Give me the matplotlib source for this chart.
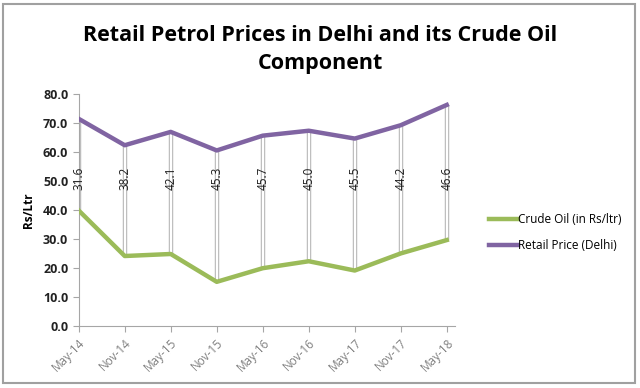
import matplotlib.pyplot as plt
from matplotlib.patches import Rectangle
import numpy as np

months = ["May-14", "Nov-14", "May-15", "Nov-15", "May-16",
          "Nov-16", "May-17", "Nov-17", "May-18"]
retail_price = [71.4, 62.3, 66.9, 60.5, 65.6, 67.3, 64.6, 69.2, 76.2]
crude_oil = [39.8, 24.1, 24.8, 15.2, 19.9, 22.3, 19.1, 25.0, 29.6]
gap_labels = ["31.6", "38.2", "42.1", "45.3", "45.7", "45.0", "45.5", "44.2", "46.6"]

green = '#9bbb59'
purple = '#8064a2'

plt.rcParams['font.family'] = ['Open Sans', 'DejaVu Sans']

fig = plt.figure(figsize=(6.4, 3.88), dpi=100)
ax = fig.add_axes([0.123, 0.160, 0.588, 0.598])

x = np.arange(len(months))

# high-low lines: grey outline with white core
ax.vlines(x, crude_oil, retail_price, color='#b8b8b8', lw=3.2, zorder=1)
ax.vlines(x, crude_oil, retail_price, color='white', lw=1.6, zorder=1.5)

ax.plot(x, crude_oil, color=green, lw=3.2, label='Crude Oil (in Rs/ltr)', zorder=3)
ax.plot(x, retail_price, color=purple, lw=3.2, label='Retail Price (Delhi)', zorder=3)

for xi, lab in zip(x, gap_labels):
    ax.text(xi, 51, lab, rotation=90, ha='center', va='center',
            fontsize=8.5, color='#1a1a1a', zorder=4)

ax.set_xlim(0, 8.18)
ax.set_ylim(0, 80)
ax.set_yticks(np.arange(0, 81, 10))
ax.set_yticklabels([f'{v:.1f}' for v in np.arange(0, 81, 10)],
                   fontsize=9, fontweight='bold')
ax.set_xticks(x)
ax.set_xticklabels(months, rotation=45, ha='right', rotation_mode='anchor',
                   fontsize=8.5)
ax.set_ylabel('Rs/Ltr', fontsize=8.5, fontweight='bold', labelpad=6)

for s in ['top', 'right']:
    ax.spines[s].set_visible(False)
for s in ['left', 'bottom']:
    ax.spines[s].set_color('#a6a6a6')
ax.tick_params(axis='both', colors='#a6a6a6', length=4, direction='out')
for t in ax.get_yticklabels():
    t.set_color('#222222')
for t in ax.get_xticklabels():
    t.set_color('#808080')

fig.suptitle('Retail Petrol Prices in Delhi and its Crude Oil\nComponent',
             x=0.5, y=0.935, fontsize=15.5, fontweight='bold', linespacing=1.4)

fig.legend(loc='center left', bbox_to_anchor=(0.748, 0.40), frameon=False,
           fontsize=8.5, handlelength=2.4, handletextpad=0.0, labelspacing=1.1)

fig.add_artist(Rectangle((0.004, 0.012), 0.988, 0.978, transform=fig.transFigure,
                         fill=False, edgecolor='#a0a0a0', lw=1.5))

plt.savefig('out.png', dpi=100)
